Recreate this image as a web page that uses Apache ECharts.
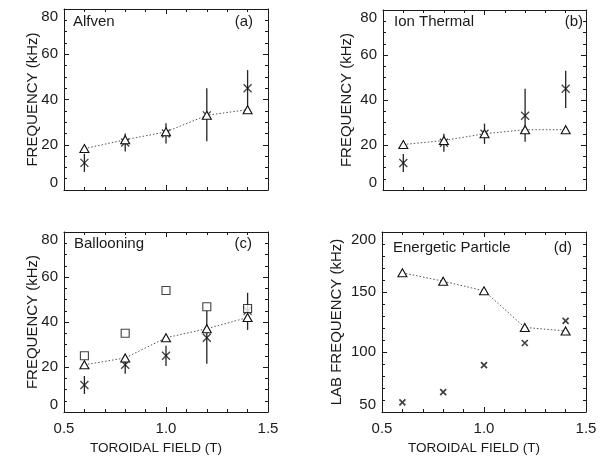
<!DOCTYPE html>
<html>
<head>
<meta charset="utf-8">
<script src="https://cdn.jsdelivr.net/npm/echarts@6/dist/echarts.min.js"></script>
<style>
html,body{margin:0;padding:0;background:#fff;}
#chart{width:602px;height:457px;}
</style>
</head>
<body>
<div id="chart"></div>
<script>
// ---- data ----
const fieldT = [0.6, 0.8, 1.0, 1.2, 1.4];
const measured = [12, 21, 25, 33, 45];
const measuredLow = [8, 17, 20.5, 21.5, 36.5];
const measuredHigh = [16, 25, 29.5, 45, 53];
const alfvenTheory = [18.3, 22.2, 25.7, 33, 35.5];
const ionThermalTheory = [20.2, 22, 25, 26.8, 26.8];
const ballooningTheory = [21, 24, 33, 37, 42];
const ballooningSquares = [25, 35, 54, 46.8, 46];
const epTheory = [166, 159, 151, 120.5, 117.5];
const epMeasured = [58, 66.5, 89, 107.5, 126];
const panelNames = ['Alfven', 'Ion Thermal', 'Ballooning', 'Energetic Particle'];
const panelTags = ['(a)', '(b)', '(c)', '(d)'];
const xTitle = 'TOROIDAL FIELD (T)';
const yTitles = ['FREQUENCY (kHz)', 'FREQUENCY (kHz)', 'FREQUENCY (kHz)', 'LAB FREQUENCY (kHz)'];

const FONT = '"Liberation Sans", Arial, sans-serif';
const INK = '#1a1a1a';

const grids = [
  {left: 64, top: 9, width: 204, height: 181},
  {left: 383, top: 10, width: 203, height: 180},
  {left: 64, top: 232, width: 204, height: 180},
  {left: 382, top: 232, width: 204, height: 180}
];
const yRanges = [[0, 80, 20, 4], [0, 80, 20, 4], [0, 80, 20, 4], [50, 200, 50, 5]];
const yGaps = [24, 29, 24, 38];

const pairs = v => fieldT.map((x, i) => [x, v[i]]);
const xAxes = [], yAxes = [], series = [], titles = [];

const tickStyle = {show: true, inside: true, length: 5, lineStyle: {color: INK, width: 1}};
const minorStyle = n => ({show: true, splitNumber: n, length: 3, lineStyle: {color: INK, width: 1}});
const lineStyle = {show: true, onZero: false, lineStyle: {color: INK, width: 1}};

grids.forEach((g, k) => {
  const showX = k >= 2;
  const [ymin, ymax, yint, ysplit] = yRanges[k];
  xAxes.push({
    type: 'value', gridIndex: k, position: 'bottom', min: 0.5, max: 1.5, interval: 0.5,
    axisLine: lineStyle, axisTick: tickStyle, minorTick: minorStyle(5), splitLine: {show: false},
    axisLabel: {show: showX, margin: 9, color: INK, fontSize: 15, fontFamily: FONT,
      formatter: v => v.toFixed(1)},
    name: showX ? xTitle : '', nameLocation: 'middle', nameGap: 29, nameMoveOverlap: false,
    nameTextStyle: {color: INK, fontSize: 13.5, fontFamily: FONT, padding: [0, 20, 0, 0]}
  });
  xAxes.push({
    type: 'value', gridIndex: k, position: 'top', min: 0.5, max: 1.5, interval: 0.5,
    axisLine: lineStyle, axisTick: tickStyle, minorTick: minorStyle(5), splitLine: {show: false},
    axisLabel: {show: false}
  });
  yAxes.push({
    type: 'value', gridIndex: k, position: 'left', min: ymin, max: ymax, interval: yint,
    axisLine: lineStyle, axisTick: tickStyle, minorTick: minorStyle(ysplit), splitLine: {show: false},
    axisLabel: {margin: 6, color: INK, fontSize: 15, fontFamily: FONT,
      verticalAlignMinLabel: 'bottom', verticalAlignMaxLabel: 'top'},
    name: yTitles[k], nameLocation: 'middle', nameGap: yGaps[k], nameMoveOverlap: false,
    nameTextStyle: {color: INK, fontSize: 15, fontFamily: FONT}
  });
  yAxes.push({
    type: 'value', gridIndex: k, position: 'right', min: ymin, max: ymax, interval: yint,
    axisLine: lineStyle, axisTick: tickStyle, minorTick: minorStyle(ysplit), splitLine: {show: false},
    axisLabel: {show: false}
  });
});

const xIdx = k => 2 * k, yIdx = k => 2 * k;
const crossSym = 'path://M0,0L10,10M10,0L0,10';

function errorBars(k) {
  return {
    type: 'custom', xAxisIndex: xIdx(k), yAxisIndex: yIdx(k),
    data: fieldT.map((x, i) => [x, measuredLow[i], measuredHigh[i]]),
    encode: {x: 0, y: [1, 2]},
    renderItem: (params, api) => {
      const p1 = api.coord([api.value(0), api.value(1)]);
      const p2 = api.coord([api.value(0), api.value(2)]);
      return {type: 'line', shape: {x1: p1[0], y1: p1[1], x2: p2[0], y2: p2[1]},
        style: {stroke: '#222', lineWidth: 1.3}};
    },
    z: 2
  };
}
function crosses(k, vals, size, w) {
  return {
    type: 'scatter', xAxisIndex: xIdx(k), yAxisIndex: yIdx(k), data: pairs(vals),
    symbol: crossSym, symbolSize: size,
    itemStyle: {color: 'none', borderColor: '#111', borderWidth: w}, z: 3
  };
}
function theory(k, vals) {
  return {
    type: 'line', xAxisIndex: xIdx(k), yAxisIndex: yIdx(k), data: pairs(vals),
    symbol: 'triangle', symbolSize: [9, 8],
    lineStyle: {color: '#555', width: 1, type: [1.5, 2]},
    itemStyle: {color: '#fff', borderColor: '#111', borderWidth: 1.1}, z: 4
  };
}

[0, 1, 2].forEach(k => {
  series.push(errorBars(k));
  series.push(crosses(k, measured, 8, 1.3));
});
series.push(theory(0, alfvenTheory));
series.push(theory(1, ionThermalTheory));
series.push(theory(2, ballooningTheory));
series.push({
  type: 'scatter', xAxisIndex: xIdx(2), yAxisIndex: yIdx(2), data: pairs(ballooningSquares),
  symbol: 'rect', symbolSize: 8,
  itemStyle: {color: '#fff', borderColor: '#111', borderWidth: 1.1}, z: 5
});
series.push(theory(3, epTheory));
series.push(crosses(3, epMeasured, 6, 1.7));

const nameLeft = [73, 394, 74, 393];
const nameTop = [14, 14, 236, 240];
const tagRight = [602 - 253, 602 - 583, 602 - 252, 602 - 572];
panelNames.forEach((n, k) => {
  titles.push({text: n, left: nameLeft[k], top: nameTop[k], padding: 0,
    textStyle: {color: INK, fontSize: 15, fontWeight: 'normal', fontFamily: FONT}});
  titles.push({text: panelTags[k], right: tagRight[k], top: nameTop[k], padding: 0,
    textStyle: {color: INK, fontSize: 15, fontWeight: 'normal', fontFamily: FONT}});
});

const chart = echarts.init(document.getElementById('chart'), null, {renderer: 'canvas'});
chart.setOption({
  animation: false,
  backgroundColor: '#fff',
  title: titles,
  grid: grids,
  xAxis: xAxes,
  yAxis: yAxes,
  series: series
});
</script>
</body>
</html>
